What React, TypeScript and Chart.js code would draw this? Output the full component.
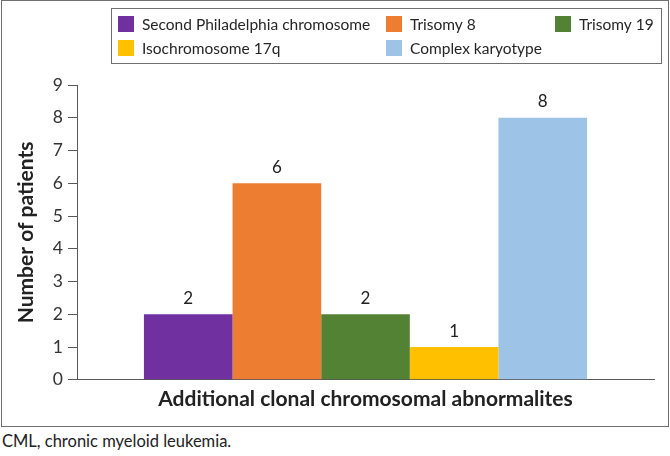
import React, { useEffect, useRef } from "react";
import { Chart, registerables } from "chart.js";

Chart.register(...registerables);

const categories = [""];
const seriesNames = [
  "Second Philadelphia chromosome",
  "Trisomy 8",
  "Trisomy 19",
  "Isochromosome 17q",
  "Complex karyotype",
];
const seriesValues = [2, 6, 2, 1, 8];
const seriesColors = ["#7030A0", "#ED7D31", "#548235", "#FFC000", "#9DC3E6"];
const yAxisTitle = "Number of patients";
const xAxisTitle = "Additional clonal chromosomal abnormalites";
const captionText = "CML, chronic myeloid leukemia.";
const yMin = 0;
const yMax = 9;

const FONT = "Lato, 'Open Sans', sans-serif";

const framePlugin = {
  id: "framePlugin",
  beforeDraw(chart: any) {
    const ctx = chart.ctx;
    ctx.save();
    ctx.strokeStyle = "#6f6f6f";
    ctx.lineWidth = 1;
    ctx.strokeRect(1.5, 0.5, 667, 426);
    ctx.restore();
  },
};

const legendPlugin = {
  id: "customLegend",
  afterDraw(chart: any) {
    const ctx = chart.ctx;
    ctx.save();
    ctx.strokeStyle = "#6f6f6f";
    ctx.lineWidth = 1;
    ctx.strokeRect(111.5, 8.5, 550, 55);
    const cols = [118, 386, 555];
    const rows = [24, 48];
    ctx.font = `15.5px ${FONT}`;
    ctx.textBaseline = "middle";
    ctx.textAlign = "left";
    chart.data.datasets.forEach((ds: any, i: number) => {
      const x = cols[i % 3];
      const y = rows[Math.floor(i / 3)];
      ctx.fillStyle = ds.backgroundColor;
      ctx.fillRect(x, y - 8, 16, 16);
      ctx.fillStyle = "#262626";
      ctx.fillText(ds.label, x + 24, y + 1);
    });
    ctx.restore();
  },
};

const valueLabelPlugin = {
  id: "valueLabels",
  afterDatasetsDraw(chart: any) {
    const ctx = chart.ctx;
    ctx.save();
    ctx.font = `17px ${FONT}`;
    ctx.fillStyle = "#222222";
    ctx.textAlign = "center";
    ctx.textBaseline = "middle";
    chart.data.datasets.forEach((ds: any, i: number) => {
      const meta = chart.getDatasetMeta(i);
      meta.data.forEach((el: any, j: number) => {
        ctx.fillText(String(ds.data[j]), el.x, el.y - 16);
      });
    });
    ctx.restore();
  },
};

export default function App() {
  const ref = useRef<HTMLCanvasElement | null>(null);

  useEffect(() => {
    document.body.style.margin = "0";
    if (!ref.current) return;
    const chart = new Chart(ref.current, {
      type: "bar",
      data: {
        labels: categories,
        datasets: seriesNames.map((name, i) => ({
          label: name,
          data: [seriesValues[i]],
          backgroundColor: seriesColors[i],
          borderWidth: 0,
          categoryPercentage: 0.768,
          barPercentage: 1,
        })),
      },
      options: {
        animation: false,
        responsive: false,
        maintainAspectRatio: false,
        layout: { padding: { top: 85, left: 14, right: 16, bottom: 11 } },
        plugins: {
          legend: { display: false },
          tooltip: { enabled: false },
        },
        scales: {
          x: {
            grid: { display: false, drawTicks: false },
            border: { display: true, color: "#595959", width: 1 },
            ticks: { display: false },
            title: {
              display: true,
              text: xAxisTitle,
              color: "#222222",
              font: { family: FONT, size: 21, weight: "bold" },
              padding: { top: 7, bottom: 4 },
            },
          },
          y: {
            min: yMin,
            max: yMax,
            afterFit: (s: any) => {
              s.width = 63;
            },
            ticks: {
              stepSize: 1,
              color: "#333333",
              font: { family: FONT, size: 17.5 },
              padding: 5,
            },
            grid: {
              display: true,
              drawOnChartArea: false,
              drawTicks: true,
              tickLength: 9,
              color: "#595959",
            },
            border: { display: true, color: "#595959", width: 1 },
            title: {
              display: true,
              text: yAxisTitle,
              color: "#222222",
              font: { family: FONT, size: 21, weight: "bold" },
              padding: { top: 0, bottom: 0 },
            },
          },
        },
      },
      plugins: [framePlugin, legendPlugin, valueLabelPlugin],
    });
    return () => chart.destroy();
  }, []);

  return (
    <div style={{ position: "relative", width: 670, height: 456, background: "#fff" }}>
      <canvas ref={ref} width={670} height={427} style={{ position: "absolute", left: 0, top: 0 }} />
      <div
        style={{
          position: "absolute",
          left: 2,
          top: 431,
          fontFamily: FONT,
          fontSize: 16.5,
          color: "#222",
          whiteSpace: "nowrap",
        }}
      >
        {captionText}
      </div>
    </div>
  );
}
